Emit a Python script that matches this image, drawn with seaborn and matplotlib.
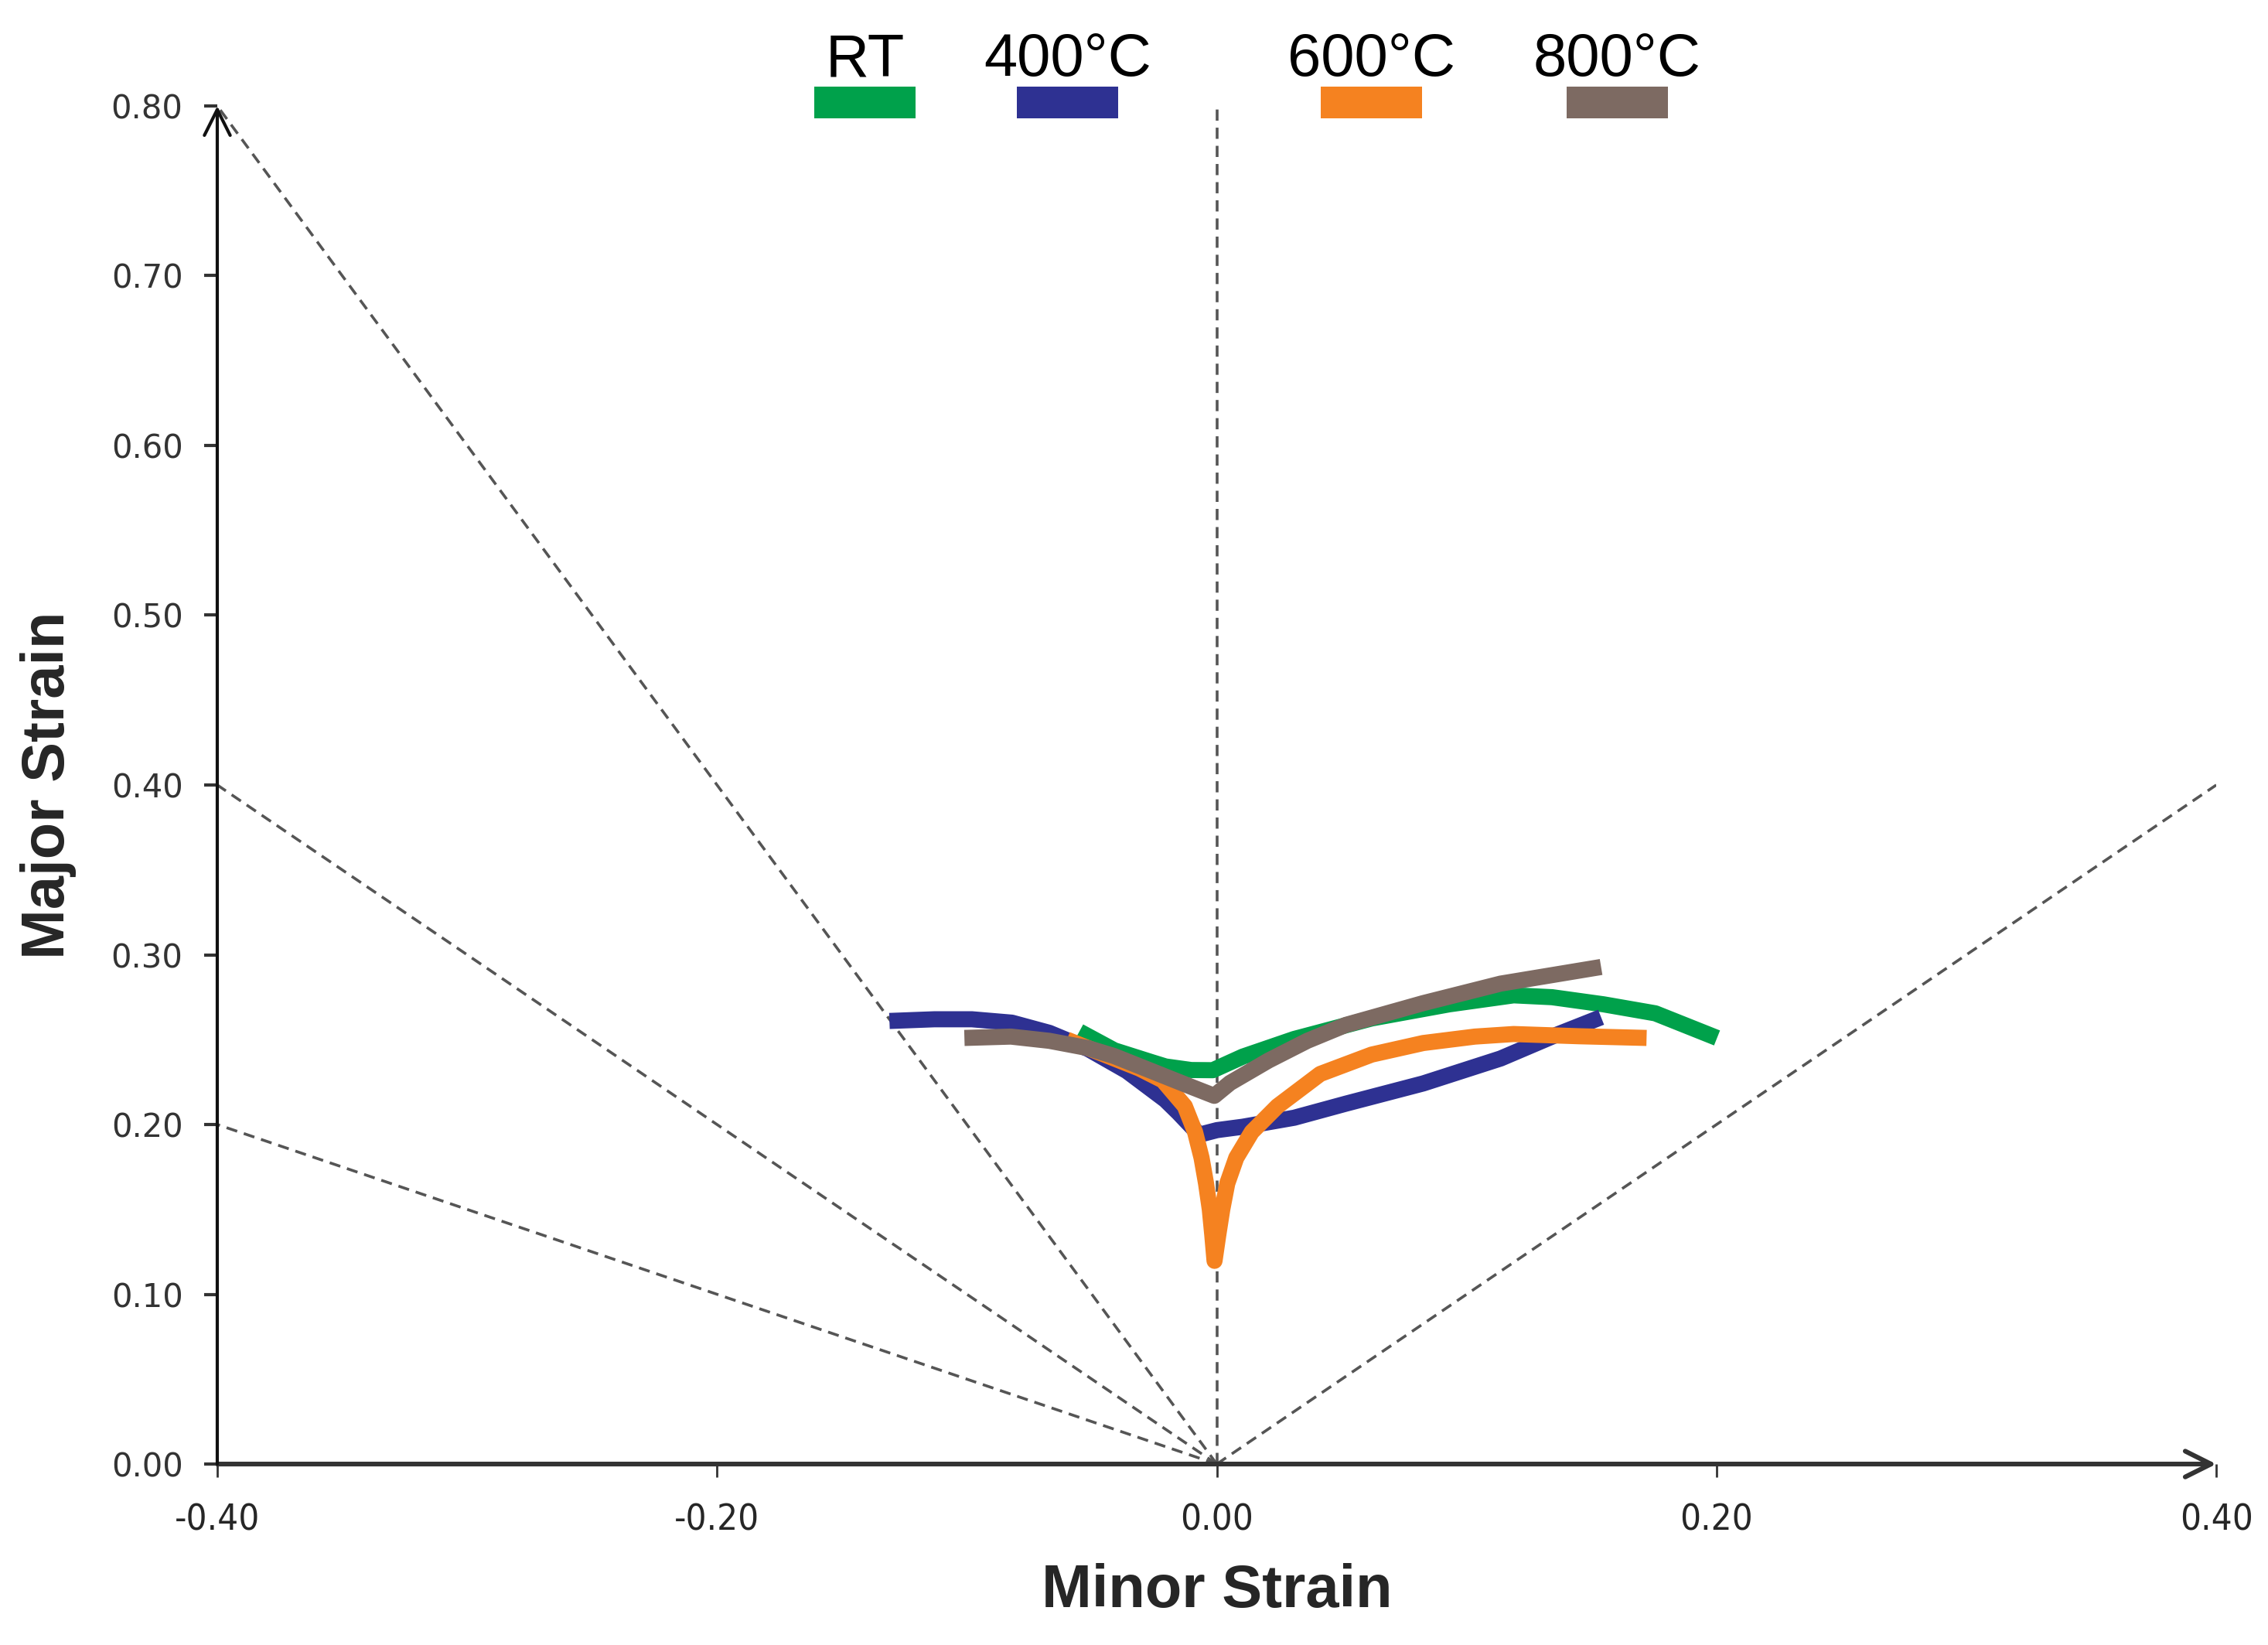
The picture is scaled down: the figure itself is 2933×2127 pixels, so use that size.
import seaborn as sns
import pandas as pd
import numpy as np
import matplotlib.pyplot as plt
from matplotlib.patches import Rectangle

# curve data (minor strain, major strain)
rt_x = [-0.055, -0.041, -0.026, -0.0205, -0.0102, -0.0016, 0.0104, 0.031, 0.062, 0.093, 0.1188, 0.1342, 0.1548, 0.1755, 0.2002]
rt_y = [0.2548, 0.2437, 0.2367, 0.2342, 0.2321, 0.232, 0.240, 0.2504, 0.2625, 0.2708, 0.2761, 0.275, 0.2708, 0.2655, 0.251]

t400_x = [-0.131, -0.113, -0.098, -0.082, -0.067, -0.0515, -0.036, -0.0206, -0.0154, -0.007, 0.0001, 0.0104, 0.031, 0.0517,
          0.0826, 0.1136, 0.1342, 0.1538]
t400_y = [0.261, 0.262, 0.262, 0.260, 0.254, 0.2445, 0.2315, 0.2145, 0.207, 0.194, 0.1967, 0.1987, 0.204, 0.2123,
          0.2242, 0.2389, 0.2518, 0.2632]

t600_x = [-0.060, -0.031, -0.0216, -0.0128, -0.0087, -0.0061, -0.0043, -0.0028, -0.0018, -0.0009, 0.0006, 0.0022, 0.0042, 0.0078,
          0.014, 0.0243, 0.0414, 0.062, 0.0826, 0.1033, 0.1188, 0.145, 0.172]
t600_y = [0.250, 0.233, 0.226, 0.2108, 0.1956, 0.1804, 0.1653, 0.150, 0.1349, 0.1197, 0.1349, 0.150, 0.1653, 0.1804,
          0.1956, 0.2108, 0.2298, 0.2412, 0.248, 0.2518, 0.2533, 0.252, 0.251]

t800_x = [-0.101, -0.0824, -0.067, -0.0515, -0.0412, -0.0257, -0.0102, -0.001, 0.0053, 0.0207, 0.0362, 0.0517, 0.0826, 0.1136, 0.1538]
t800_y = [0.251, 0.2518, 0.2493, 0.245, 0.2404, 0.2313, 0.2222, 0.2169, 0.2245, 0.2377, 0.2493, 0.2587, 0.2715, 0.2830, 0.2928]

labels = ['RT', '400°C', '600°C', '800°C']
colors = ['#00A14B', '#2E3192', '#F58220', '#7D6A62']
legend_x = [0.324, 0.4255, 0.5774, 0.7004]

# dashed strain-path rays from the origin
ray_x = [-0.4, -0.4, -0.4, 0.0, 0.4]
ray_y = [0.8, 0.4, 0.2, 0.8, 0.4]

xticks = [-0.4, -0.2, 0.0, 0.2, 0.4]
yticks = [0.0, 0.1, 0.2, 0.3, 0.4, 0.5, 0.6, 0.7, 0.8]

sns.set_theme(style='white')
plt.rcParams['font.family'] = ['DejaVu Sans']

fig = plt.figure(figsize=(2933 / 200, 2127 / 200), dpi=200)
ax = fig.add_axes([0.0958, 0.110, 0.8814, 0.8256])

for rx, ry in zip(ray_x, ray_y):
    ax.plot([0, rx], [0, ry], color='#555555', lw=1.3, ls=(0, (4, 2.5)), zorder=1)

curves = [(rt_x, rt_y), (t400_x, t400_y), (t600_x, t600_y), (t800_x, t800_y)]
frames = []
for i, (cx, cy) in enumerate(curves):
    frames.append(pd.DataFrame({'minor': cx, 'major': cy, 'temp': labels[i]}))
df = pd.concat(frames, ignore_index=True)

for i, lab in enumerate(labels):
    sub = df[df['temp'] == lab]
    sns.lineplot(data=sub, x='minor', y='major', sort=False, estimator=None,
                 color=colors[i], lw=7.5, ax=ax, zorder=3 + i,
                 solid_joinstyle='round', solid_capstyle='butt')

ax.set_xlim(-0.4, 0.4)
ax.set_ylim(0, 0.8)
ax.set_xticks(xticks)
ax.set_yticks(yticks)
ax.set_xticklabels(['%.2f' % v for v in xticks], fontsize=17, fontstretch='condensed')
ax.set_yticklabels(['%.2f' % v for v in yticks], fontsize=15, color='#333333')
ax.tick_params(axis='x', direction='out', length=6, width=1, color='#333333', pad=12, bottom=True)
ax.tick_params(axis='y', direction='out', length=6, width=1.5, color='#333333', pad=10, left=True)
for s in ax.spines.values():
    s.set_visible(False)

# axes drawn as arrows
ax.annotate('', xy=(1, 0), xytext=(0, 0), xycoords='axes fraction',
            arrowprops=dict(arrowstyle='->', lw=2.2, color='#333333', mutation_scale=30, shrinkA=0, shrinkB=0), zorder=2)
ax.annotate('', xy=(0, 1), xytext=(0, 0), xycoords='axes fraction',
            arrowprops=dict(arrowstyle='->', lw=1.5, color='#111111', mutation_scale=30, shrinkA=0, shrinkB=0), zorder=2)

ax.set_xlabel('Minor Strain', family=['Liberation Sans', 'DejaVu Sans'], fontweight='bold', fontsize=28, labelpad=12)
ax.set_ylabel('Major Strain', family=['Liberation Sans', 'DejaVu Sans'], fontweight='bold', fontsize=28, labelpad=16)

# legend: label above a colour block
for i, lab in enumerate(labels):
    ax.text(legend_x[i], 1.022, lab, transform=ax.transAxes, ha='center', va='baseline',
            family=['Liberation Sans', 'DejaVu Sans'], fontsize=28, color='black')
    ax.add_patch(Rectangle((legend_x[i] - 0.0254, 0.991), 0.0507, 0.0234, transform=ax.transAxes,
                           facecolor=colors[i], edgecolor='none', clip_on=False, zorder=10))

fig.savefig('out.png', dpi=200)
